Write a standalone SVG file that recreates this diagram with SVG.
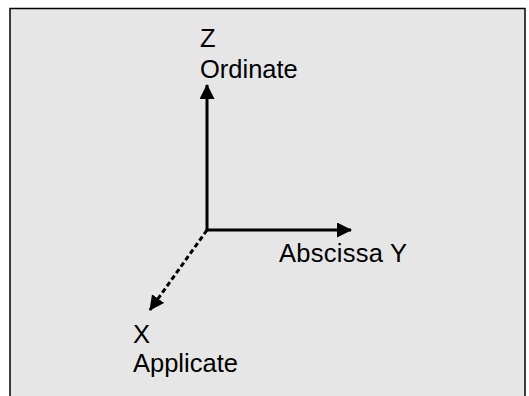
<svg xmlns="http://www.w3.org/2000/svg" width="529" height="396" viewBox="0 0 529 396">
<defs>
<style>
.lbl{font-family:"Liberation Sans",Arial,sans-serif;font-size:25.5px;fill:#000}
.ax{stroke:#000;stroke-width:3;fill:none}
</style>
<marker id="ah" markerWidth="15" markerHeight="15" viewBox="0 0 15 15" refX="14" refY="7.5" orient="auto" markerUnits="userSpaceOnUse">
<path d="M0,0 L15,7.5 L0,15 Z" fill="#000"/>
</marker>
</defs>
<rect x="0" y="0" width="529" height="396" fill="#fff"/>
<g id="frame">
<rect x="10" y="8.5" width="515" height="400" fill="#e6e6e6" stroke="#000" stroke-width="1.5"/>
</g>
<g id="connectors">
<line class="ax" x1="207" y1="231" x2="207" y2="85" marker-end="url(#ah)"/>
<line class="ax" x1="206" y1="230" x2="351" y2="230" marker-end="url(#ah)"/>
<line class="ax" x1="207" y1="230" x2="150" y2="310" stroke-dasharray="5,3" marker-end="url(#ah)"/>
</g>
<g id="z-axis-label">
<text class="lbl" x="200" y="47">Z</text>
<text class="lbl" x="200" y="78">Ordinate</text>
</g>
<g id="y-axis-label">
<text class="lbl" x="279" y="262" textLength="128" lengthAdjust="spacing">Abscissa Y</text>
</g>
<g id="x-axis-label">
<text class="lbl" x="133" y="343">X</text>
<text class="lbl" x="133" y="372">Applicate</text>
</g>
</svg>
